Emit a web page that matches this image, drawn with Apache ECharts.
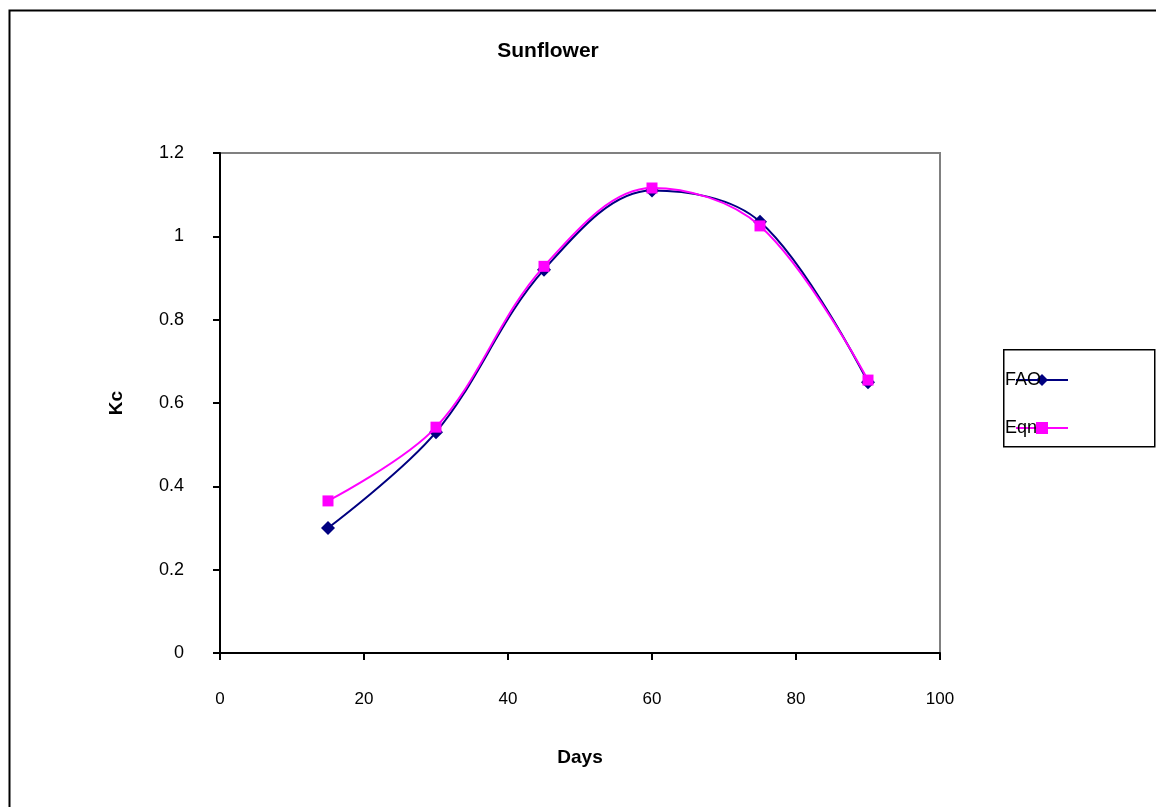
<!DOCTYPE html>
<html><head><meta charset="utf-8">
<script src="https://cdn.jsdelivr.net/npm/echarts@6/dist/echarts.min.js"></script>
<style>html,body{margin:0;padding:0;background:#fff}#c{width:1156px;height:807px}</style>
</head><body><div id="c"></div>
<script>
const days = [15, 30, 45, 60, 75, 90];
const fao = [0.30, 0.53, 0.92, 1.11, 1.035, 0.65];
const eqn = [0.365, 0.542, 0.928, 1.116, 1.025, 0.655];
const xTicks = [0, 20, 40, 60, 80, 100];
const yTicks = [0, 0.2, 0.4, 0.6, 0.8, 1, 1.2];

const chart = echarts.init(document.getElementById('c'));
const font = 'Liberation Sans, Arial, sans-serif';
chart.setOption({
  animation: false,
  backgroundColor: '#fff',
  title: {
    text: 'Sunflower', left: 543, top: 36, textAlign: 'center',
    textStyle: { fontFamily: font, fontSize: 21, fontWeight: 'bold', color: '#000' }
  },
  graphic: [
    { type: 'rect', left: 7, top: 8, shape: { width: 1170, height: 820 }, style: { fill: 'none', stroke: '#000', lineWidth: 2 }, silent: true, z: -1 },
    { type: 'rect', left: 1003, top: 349, shape: { width: 151, height: 97 }, style: { fill: '#fff', stroke: '#000', lineWidth: 1.5 }, silent: true, z: 0 }
  ],
  legend: {
    orient: 'vertical', left: 1000, top: 366, itemGap: 30,
    itemWidth: 52, itemHeight: 15,
    data: ['FAO', 'Eqn'],
    textStyle: { fontFamily: font, fontSize: 18, color: '#000', padding: [6, 0, 0, -68] },
    z: 5
  },
  grid: { left: 220, top: 153, width: 720, height: 500, show: true, borderColor: '#808080', borderWidth: 2, backgroundColor: '#fff' },
  xAxis: {
    type: 'value', min: 0, max: 100, interval: 20,
    name: 'Days', nameLocation: 'middle', nameGap: 95,
    nameTextStyle: { fontFamily: font, fontSize: 19, fontWeight: 'bold', color: '#000' },
    axisLine: { show: true, lineStyle: { color: '#000', width: 2 } },
    axisTick: { show: true, inside: false, length: 7, lineStyle: { color: '#000', width: 2 } },
    axisLabel: { fontFamily: font, fontSize: 17, color: '#000', margin: 38,
      formatter: v => xTicks.includes(v) ? String(v) : '' },
    splitLine: { show: false }
  },
  yAxis: {
    type: 'value', min: 0, max: 1.2, interval: 0.2,
    name: 'Kc', nameLocation: 'middle', nameGap: 94, nameRotate: 90,
    nameTextStyle: { fontFamily: font, fontSize: 19, fontWeight: 'bold', color: '#000' },
    axisLine: { show: true, lineStyle: { color: '#000', width: 2 } },
    axisTick: { show: true, inside: false, length: 7, lineStyle: { color: '#000', width: 2 } },
    axisLabel: { fontFamily: font, fontSize: 18, color: '#000', margin: 36,
      formatter: v => { const t = yTicks.find(y => Math.abs(y - v) < 1e-6); return t === undefined ? '' : String(t); } },
    splitLine: { show: false }
  },
  series: [
    { name: 'FAO', type: 'line', data: days.map((d, i) => [d, fao[i]]), smooth: 0.35,
      symbol: 'diamond', symbolSize: 14, showSymbol: true,
      lineStyle: { color: '#000080', width: 2 }, itemStyle: { color: '#000080' }, z: 3 },
    { name: 'Eqn', type: 'line', data: days.map((d, i) => [d, eqn[i]]), smooth: 0.35,
      symbol: 'rect', symbolSize: 11, showSymbol: true,
      lineStyle: { color: '#FF00FF', width: 2 }, itemStyle: { color: '#FF00FF' }, z: 4 }
  ]
});
</script></body></html>
